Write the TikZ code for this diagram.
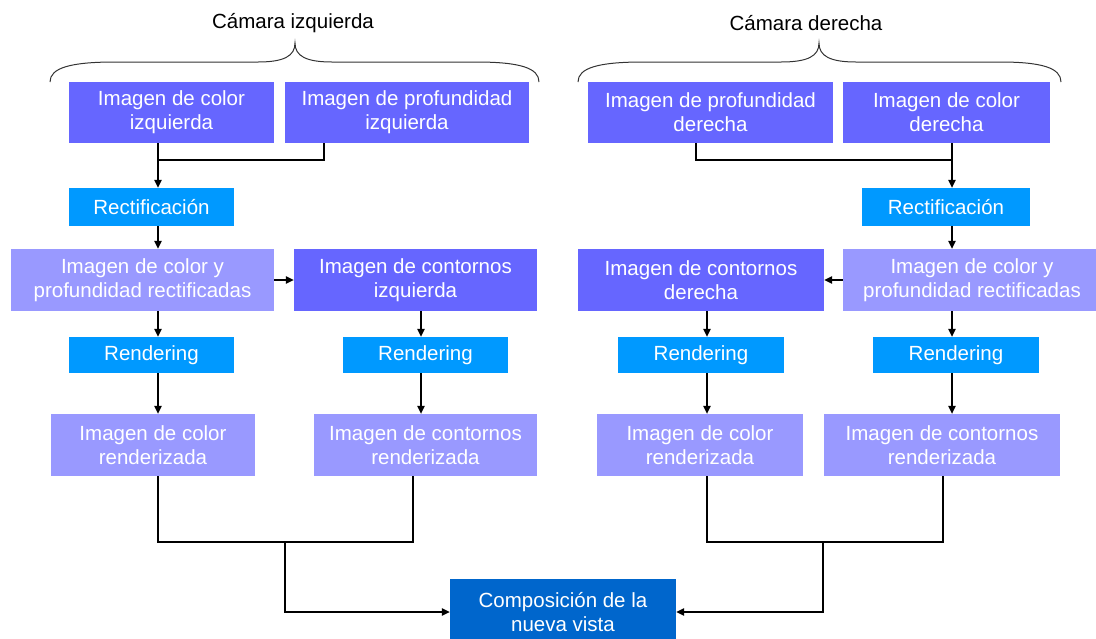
\documentclass[tikz,border=0pt]{standalone}
\usepackage{fontspec}
\setmainfont{Liberation Sans}
\usetikzlibrary{arrows.meta}
\newcommand{\boxfont}{\fontsize{20.5}{24}\selectfont}
\definecolor{deepviolet}{HTML}{6666FF}
\definecolor{paleviolet}{HTML}{9999FF}
\definecolor{skyblue}{HTML}{0099FF}
\definecolor{navyblue}{HTML}{0066CC}
\tikzset{
  x=1pt, y=-1pt,
  stage/.style={rectangle, inner sep=0pt, align=center, text=white, font=\boxfont},
  source/.style={stage, fill=deepviolet},
  derived/.style={stage, fill=paleviolet},
  process/.style={stage, fill=skyblue},
  final/.style={stage, fill=navyblue},
  heading/.style={font=\boxfont, text=black, inner sep=0pt},
  ln/.style={draw=black, line width=1.2pt},
  arr/.style={ln, -{Triangle[length=8pt,width=7.5pt]}},
  bracecurve/.style={draw=black!80, line width=1pt},
}
\begin{document}
\begin{tikzpicture}
\clip (0,0) rectangle (1096,638);
\fill[white] (0,0) rectangle (1096,638);

% headings and braces
\node[heading] (tl) at (293,23) {Cámara izquierda};
\node[heading] (tr) at (806,23) {Cámara derecha};
\draw[bracecurve] (50,82) .. controls (50,68) and (70,62) .. (115,62) -- (258,62)
  .. controls (284,62) and (295,56) .. (295,43)
  .. controls (295,56) and (306,62) .. (332,62) -- (476,62)
  .. controls (520,62) and (539,68) .. (539,82);
\draw[bracecurve] (578,82) .. controls (578,68) and (598,62) .. (643,62) -- (781,62)
  .. controls (808,62) and (819,56) .. (819,43)
  .. controls (819,56) and (830,62) .. (856,62) -- (1000,62)
  .. controls (1042,62) and (1061,68) .. (1061,82);

% left camera
\node[source, minimum width=205, minimum height=61] (lc) at (171.5,112.5) {Imagen de color\\izquierda};
\node[source, minimum width=244, minimum height=61] (lp) at (407,112.5) {Imagen de profundidad\\izquierda};
\node[process, minimum width=165, minimum height=38] (lr) at (151.5,207) {Rectificación};
\node[derived, minimum width=263, minimum height=62] (lrect) at (142.5,280) {Imagen de color y\\profundidad rectificadas};
\node[source, minimum width=243, minimum height=62] (lcont) at (415.5,280) {Imagen de contornos\\izquierda};
\node[process, minimum width=165, minimum height=36] (lrend1) at (151.5,355) {Rendering};
\node[process, minimum width=165, minimum height=36] (lrend2) at (425.5,355) {Rendering};
\node[derived, minimum width=204, minimum height=62] (lout1) at (153,445) {Imagen de color\\renderizada};
\node[derived, minimum width=223, minimum height=62] (lout2) at (425.5,445) {Imagen de contornos\\renderizada};

% right camera
\node[source, minimum width=245, minimum height=61] (rp) at (710.5,112.5) {Imagen de profundidad\\derecha};
\node[source, minimum width=207, minimum height=61] (rc) at (946.5,112.5) {Imagen de color\\derecha};
\node[process, minimum width=168, minimum height=38] (rr) at (946,207) {Rectificación};
\node[source, minimum width=246, minimum height=62] (rcont) at (701,280) {Imagen de contornos\\derecha};
\node[derived, minimum width=258, minimum height=62] (rrect) at (972,280) {Imagen de color y\\profundidad rectificadas};
\node[process, minimum width=166, minimum height=36] (rrend1) at (701,355) {Rendering};
\node[process, minimum width=166, minimum height=36] (rrend2) at (956,355) {Rendering};
\node[derived, minimum width=206, minimum height=62] (rout1) at (700,445) {Imagen de color\\renderizada};
\node[derived, minimum width=236, minimum height=62] (rout2) at (942,445) {Imagen de contornos\\renderizada};

% composition
\node[final, minimum width=226, minimum height=66] (comp) at (563,612) {Composición de la\\nueva vista};

% routing columns and junctions
\coordinate (xl1) at (158,0);
\coordinate (xl2) at (324,0);
\coordinate (xl3) at (421,0);
\coordinate (xl4) at (413,0);
\coordinate (xr1) at (952,0);
\coordinate (xr2) at (696,0);
\coordinate (xr3) at (707,0);
\coordinate (xr4) at (943,0);
\coordinate (jtl) at (158,160);
\coordinate (jtr) at (952,160);
\coordinate (jbl) at (285,542);
\coordinate (jbr) at (823,542);

% left connectors
\draw[arr] (lc.south -| xl1) -- (lr.north -| xl1);
\draw[ln] (lp.south -| xl2) |- (jtl);
\draw[arr] (lr.south -| xl1) -- (lrect.north -| xl1);
\draw[arr] (lrect.east) -- (lcont.west);
\draw[arr] (lrect.south -| xl1) -- (lrend1.north -| xl1);
\draw[arr] (lrend1.south -| xl1) -- (lout1.north -| xl1);
\draw[arr] (lcont.south -| xl3) -- (lrend2.north -| xl3);
\draw[arr] (lrend2.south -| xl3) -- (lout2.north -| xl3);
\draw[ln] (lout1.south -| xl1) |- (jbl) -| (lout2.south -| xl4);
\draw[arr] (jbl) |- (comp.west);

% right connectors
\draw[arr] (rc.south -| xr1) -- (rr.north -| xr1);
\draw[ln] (rp.south -| xr2) |- (jtr);
\draw[arr] (rr.south -| xr1) -- (rrect.north -| xr1);
\draw[arr] (rrect.west) -- (rcont.east);
\draw[arr] (rrect.south -| xr1) -- (rrend2.north -| xr1);
\draw[arr] (rrend2.south -| xr1) -- (rout2.north -| xr1);
\draw[arr] (rcont.south -| xr3) -- (rrend1.north -| xr3);
\draw[arr] (rrend1.south -| xr3) -- (rout1.north -| xr3);
\draw[ln] (rout1.south -| xr3) |- (jbr) -| (rout2.south -| xr4);
\draw[arr] (jbr) |- (comp.east);
\end{tikzpicture}
\end{document}
